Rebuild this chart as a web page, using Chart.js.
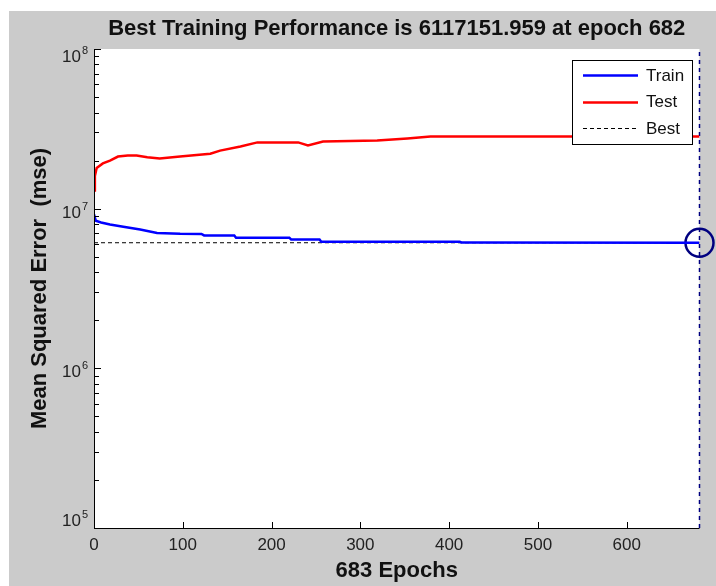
<!DOCTYPE html>
<html>
<head>
<meta charset="utf-8">
<script src="https://cdn.jsdelivr.net/npm/chart.js@4.4.1/dist/chart.umd.min.js"></script>
<style>
  html, body { margin: 0; padding: 0; background: #fff; }
  #wrap { width: 716px; height: 586px; }
</style>
</head>
<body>
<div id="wrap"><canvas id="perf" width="716" height="586"></canvas></div>
<script>
// values
const trainEpochs = [0, 2, 8, 18, 33, 52, 71, 97, 121, 124, 158, 160, 220, 222, 254, 256, 412, 414, 682];
const trainMse = [9.2e6, 8.4e6, 8.2e6, 7.95e6, 7.7e6, 7.4e6, 7.05e6, 6.97e6, 6.95e6, 6.8e6, 6.8e6, 6.58e6, 6.58e6, 6.42e6, 6.42e6, 6.2e6, 6.2e6, 6.13e6, 6.117e6];

const testEpochs = [0, 1, 3, 10, 18, 27, 38, 48, 60, 74, 97, 131, 142, 165, 184, 230, 241, 258, 319, 353, 379, 682];
const testMse = [1.3e7, 1.6e7, 1.8e7, 1.92e7, 2.0e7, 2.12e7, 2.15e7, 2.15e7, 2.1e7, 2.06e7, 2.12e7, 2.21e7, 2.31e7, 2.45e7, 2.6e7, 2.6e7, 2.49e7, 2.63e7, 2.67e7, 2.75e7, 2.83e7, 2.83e7];

const bestEpoch = 682;
const bestMse = 6117151.959;
const totalEpochs = 683;

const xTicks = [0, 100, 200, 300, 400, 500, 600];
const yExponents = [5, 6, 7, 8];

const FONT = "'Liberation Sans', Arial, Helvetica, sans-serif";

function pts(xs, ys) {
  return xs.map((x, i) => ({ x, y: ys[i] }));
}

const decor = {
  id: "decor",
  beforeDraw(c) {
    const { ctx, chartArea: a } = c;
    ctx.save();
    ctx.fillStyle = "#ffffff";
    ctx.fillRect(0, 0, c.width, c.height);
    ctx.fillStyle = "#cbcbcb";
    ctx.fillRect(9, 11, c.width - 9, c.height - 11);
    ctx.fillStyle = "#ffffff";
    ctx.fillRect(a.left, a.top, a.right - a.left, a.bottom - a.top);
    ctx.restore();
  },
  afterDraw(c) {
    const { ctx, chartArea: a } = c;
    const xs = c.scales.x, ys = c.scales.y;
    ctx.save();
    ctx.strokeStyle = "#000";
    ctx.lineWidth = 1;

    // axes lines
    ctx.beginPath();
    ctx.moveTo(a.left + 0.5, a.top);
    ctx.lineTo(a.left + 0.5, a.bottom + 0.5);
    ctx.lineTo(a.right, a.bottom + 0.5);
    ctx.stroke();

    // inward ticks, log minor ticks on y
    ctx.beginPath();
    yExponents.forEach((e) => {
      const maxM = e === 8 ? 1 : 9;
      for (let m = 1; m <= maxM; m++) {
        const py = Math.round(ys.getPixelForValue(m * Math.pow(10, e))) + 0.5;
        const len = m === 1 ? 7 : 5;
        ctx.moveTo(a.left, py);
        ctx.lineTo(a.left + len, py);
      }
    });
    xTicks.forEach((v) => {
      const px = Math.round(xs.getPixelForValue(v)) + 0.5;
      ctx.moveTo(px, a.bottom);
      ctx.lineTo(px, a.bottom - 6);
    });
    ctx.stroke();

    // tick labels
    ctx.fillStyle = "#222";
    ctx.font = `17px ${FONT}`;
    ctx.textAlign = "center";
    ctx.textBaseline = "alphabetic";
    xTicks.forEach((v) => ctx.fillText(String(v), xs.getPixelForValue(v), a.bottom + 22));

    yExponents.forEach((e) => {
      const py = ys.getPixelForValue(Math.pow(10, e));
      const base = Math.min(Math.max(py + 9, a.top + 13), a.bottom - 2);
      ctx.font = `17px ${FONT}`;
      ctx.textAlign = "right";
      ctx.fillText("10", a.left - 13, base);
      ctx.font = `11px ${FONT}`;
      ctx.textAlign = "left";
      ctx.fillText(String(e), a.left - 12, base - 8);
    });

    // titles
    ctx.fillStyle = "#111";
    ctx.font = `bold 22px ${FONT}`;
    ctx.textAlign = "center";
    const cx = (a.left + a.right) / 2;
    ctx.fillText(`Best Training Performance is ${bestMse.toFixed(3)} at epoch ${bestEpoch}`, cx, 35);
    ctx.fillText(`${totalEpochs} Epochs`, cx, 577);
    ctx.save();
    ctx.translate(40, (a.top + a.bottom) / 2);
    ctx.rotate(-Math.PI / 2);
    ctx.textBaseline = "middle";
    ctx.fillText("Mean Squared Error  (mse)", 0, 0);
    ctx.restore();

    // legend box
    const lx = 572, ly = 60, lw = 120, lh = 84;
    ctx.fillStyle = "#fff";
    ctx.fillRect(lx, ly, lw, lh);
    ctx.strokeStyle = "#000";
    ctx.strokeRect(lx + 0.5, ly + 0.5, lw, lh);
    const items = c.data.datasets.filter((d) => d.showInLegend);
    items.forEach((d, i) => {
      const y = ly + 15 + i * 26.5;
      ctx.beginPath();
      ctx.strokeStyle = d.borderColor;
      ctx.lineWidth = d.borderWidth;
      ctx.setLineDash(d.borderDash || []);
      ctx.moveTo(lx + 11, Math.round(y) + 0.5);
      ctx.lineTo(lx + 66, Math.round(y) + 0.5);
      ctx.stroke();
      ctx.setLineDash([]);
      ctx.fillStyle = "#111";
      ctx.font = `17px ${FONT}`;
      ctx.textAlign = "left";
      ctx.textBaseline = "middle";
      ctx.fillText(d.label, lx + 74, y + 1);
    });
    ctx.restore();
  }
};

new Chart(document.getElementById("perf"), {
  type: "line",
  data: {
    datasets: [
      { label: "Train", data: pts(trainEpochs, trainMse), borderColor: "#0000ff", borderWidth: 2.5, pointRadius: 0, showInLegend: true },
      { label: "Test", data: pts(testEpochs, testMse), borderColor: "#ff0000", borderWidth: 2.5, pointRadius: 0, showInLegend: true },
      { label: "Best", data: pts([0, bestEpoch], [bestMse, bestMse]), borderColor: "#000000", borderWidth: 1, borderDash: [4, 3], pointRadius: 0, showInLegend: true },
      { label: "bestEpoch", data: pts([bestEpoch, bestEpoch], [1e5, 1e8]), borderColor: "#000080", borderWidth: 1.5, borderDash: [4, 4], pointRadius: 0, clip: false },
      { label: "bestPoint", data: pts([bestEpoch], [bestMse]), showLine: false, pointRadius: 14, pointBorderWidth: 2.5, pointBorderColor: "#000080", pointBackgroundColor: "rgba(0,0,0,0)", clip: false }
    ]
  },
  options: {
    responsive: false,
    animation: false,
    events: [],
    layout: { padding: { left: 86, top: 49, right: 16, bottom: 50 } },
    scales: {
      x: { type: "linear", min: 0, max: bestEpoch, display: true, ticks: { display: false }, grid: { display: false }, border: { display: false } },
      y: { type: "logarithmic", min: 1e5, max: 1e8, display: true, ticks: { display: false }, grid: { display: false }, border: { display: false } }
    },
    plugins: { legend: { display: false }, tooltip: { enabled: false } }
  },
  plugins: [decor]
});
</script>
</body>
</html>
